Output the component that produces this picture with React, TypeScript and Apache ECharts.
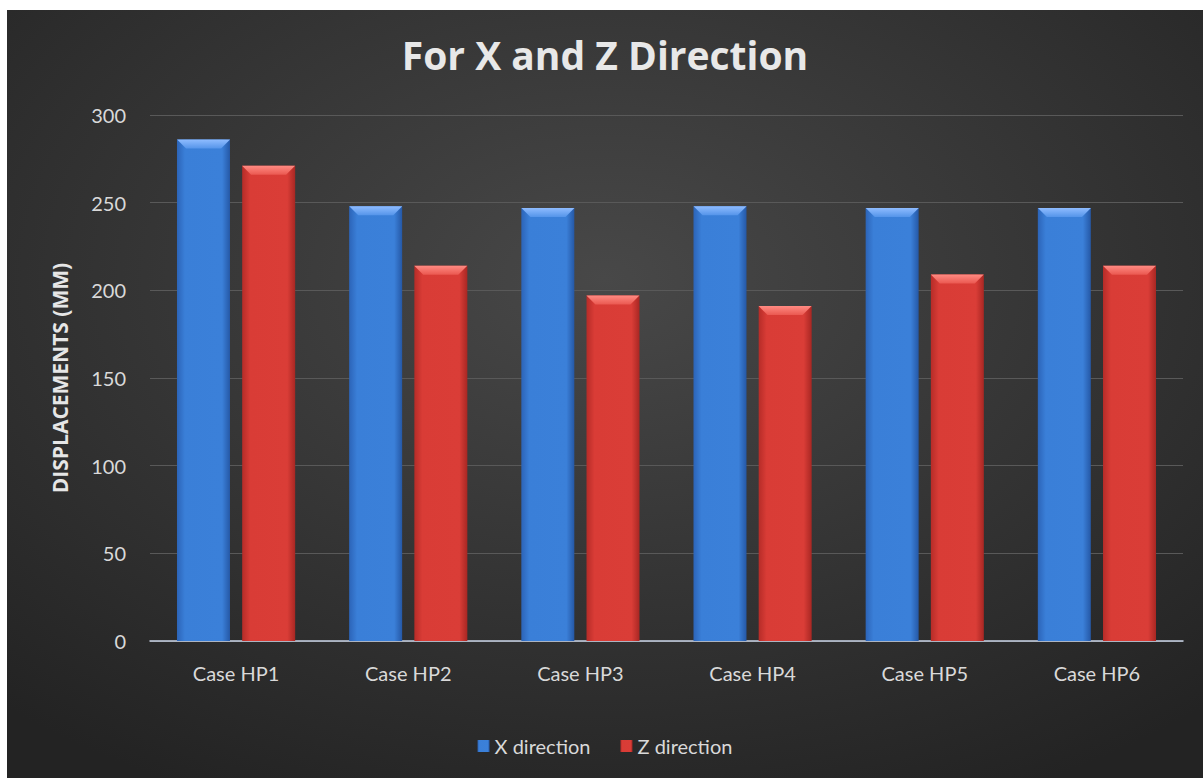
import React, { useEffect, useRef } from "react";
import * as echarts from "echarts";

const categories = ["Case HP1", "Case HP2", "Case HP3", "Case HP4", "Case HP5", "Case HP6"];
const xDirection = [286, 248, 247, 248, 247, 247];
const zDirection = [271, 214, 197, 191, 209, 214];
const yTicks = { min: 0, max: 300, interval: 50 };

const FONT = "Lato, 'Open Sans', sans-serif";
const BOLD_FONT = "'Open Sans', Lato, sans-serif";
const BAR_W = 53;
const BAR_GAP = "23%";
const HALF_STEP = 32.5;

const blueBody = new echarts.graphic.LinearGradient(0, 0, 1, 0, [
  { offset: 0, color: "#2c64b8" },
  { offset: 0.15, color: "#3a7fd8" },
  { offset: 0.85, color: "#3b80d9" },
  { offset: 1, color: "#2558a6" },
]);
const redBody = new echarts.graphic.LinearGradient(0, 0, 1, 0, [
  { offset: 0, color: "#b62c28" },
  { offset: 0.15, color: "#d93c36" },
  { offset: 0.85, color: "#da3d37" },
  { offset: 1, color: "#a82723" },
]);

// Bevelled cap drawn on top of each bar
function bevel(offset: number, light: string, mid: string) {
  return (params: any, api: any) => {
    const idx = api.value(0);
    const val = api.value(1);
    const top = api.coord([idx, val]);
    const cx = top[0] + offset;
    const x0 = cx - BAR_W / 2;
    const x1 = cx + BAR_W / 2;
    const y = top[1];
    const d = 9;
    return {
      type: "polygon",
      shape: {
        points: [
          [x0, y],
          [x1, y],
          [x1 - d, y + d],
          [x0 + d, y + d],
        ],
      },
      style: {
        fill: new echarts.graphic.LinearGradient(0, 0, 0, 1, [
          { offset: 0, color: light },
          { offset: 1, color: mid },
        ]),
      },
    };
  };
}

export default function App() {
  const ref = useRef<HTMLDivElement>(null);

  useEffect(() => {
    document.body.style.margin = "0";
    const chart = echarts.init(ref.current!, null, { renderer: "svg" });
    chart.setOption({
      animation: false,
      backgroundColor: new echarts.graphic.RadialGradient(0.5, 0.35, 0.75, [
        { offset: 0, color: "#484848" },
        { offset: 1, color: "#232323" },
      ]),
      title: {
        text: "For X and Z Direction",
        left: "center",
        top: 20,
        textStyle: {
          fontFamily: BOLD_FONT,
          fontSize: 39,
          fontWeight: "bold",
          color: "#e8e8e8",
        },
      },
      legend: {
        data: ["X direction", "Z direction"],
        bottom: 17,
        left: "center",
        icon: "rect",
        itemWidth: 12,
        itemHeight: 12,
        itemGap: 30,
        textStyle: { fontFamily: FONT, fontSize: 20, color: "#d9d9d9" },
      },
      grid: { left: 143, right: 20, top: 105, bottom: 137 },
      xAxis: {
        type: "category",
        data: categories,
        axisLine: { lineStyle: { color: "#c9d3e6", width: 1.5 } },
        axisTick: { show: false },
        axisLabel: {
          fontFamily: FONT,
          fontSize: 20,
          color: "#d9d9d9",
          margin: 22,
        },
      },
      yAxis: {
        type: "value",
        min: yTicks.min,
        max: yTicks.max,
        interval: yTicks.interval,
        name: "DISPLACEMENTS (MM)",
        nameLocation: "middle",
        nameGap: 80,
        nameRotate: 90,
        nameTextStyle: {
          fontFamily: BOLD_FONT,
          fontSize: 21,
          fontWeight: "bold",
          color: "#e6e6e6",
        },
        axisLabel: {
          fontFamily: FONT,
          fontSize: 20,
          color: "#d9d9d9",
          margin: 24,
        },
        splitLine: { lineStyle: { color: "#595959", width: 1 } },
        axisLine: { show: false },
        axisTick: { show: false },
      },
      series: [
        {
          name: "X direction",
          type: "bar",
          data: xDirection,
          barWidth: BAR_W,
          barGap: BAR_GAP,
          itemStyle: { color: blueBody },
        },
        {
          name: "Z direction",
          type: "bar",
          data: zDirection,
          barWidth: BAR_W,
          barGap: BAR_GAP,
          itemStyle: { color: redBody },
        },
        {
          name: "X bevel",
          type: "custom",
          silent: true,
          data: xDirection.map((v, i) => [i, v]),
          renderItem: bevel(-HALF_STEP, "#8fbcff", "#5595ea"),
          z: 5,
        },
        {
          name: "Z bevel",
          type: "custom",
          silent: true,
          data: zDirection.map((v, i) => [i, v]),
          renderItem: bevel(HALF_STEP, "#ff8a82", "#ea5850"),
          z: 5,
        },
      ],
    });
    return () => chart.dispose();
  }, []);

  return (
    <div style={{ position: "relative", width: 1203, height: 778, background: "#ffffff" }}>
      <div
        ref={ref}
        style={{ position: "absolute", left: 7, top: 10, width: 1196, height: 768 }}
      />
    </div>
  );
}
